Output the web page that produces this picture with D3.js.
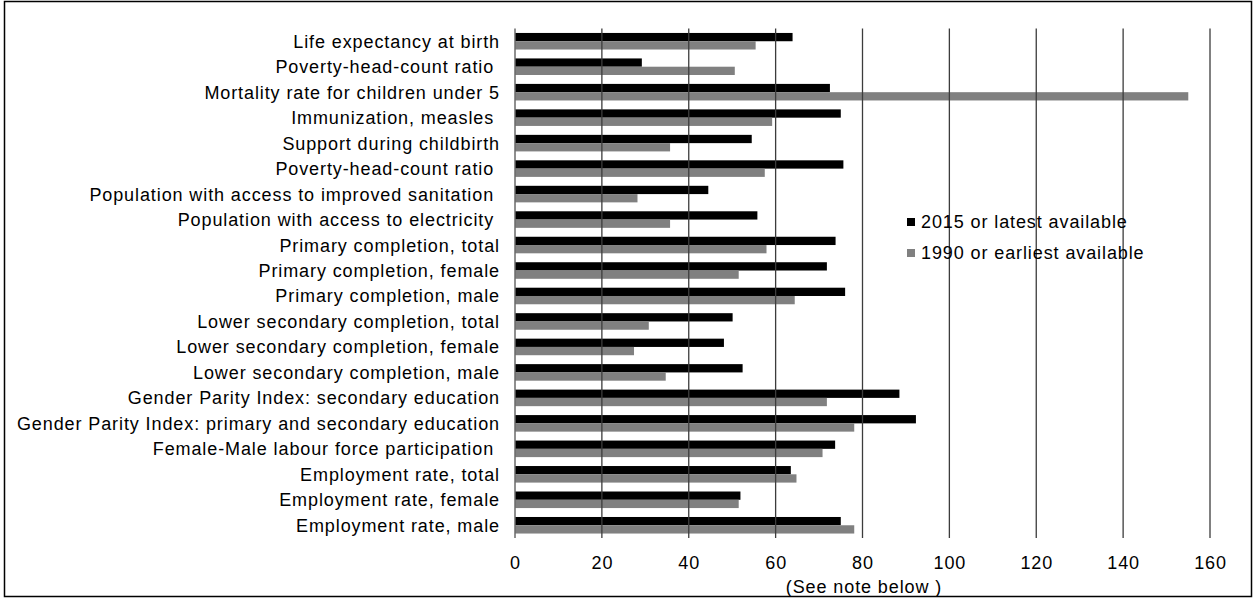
<!DOCTYPE html>
<html>
<head>
<meta charset="utf-8">
<script src="https://cdn.jsdelivr.net/npm/d3@7"></script>
<style>
  html, body { margin: 0; padding: 0; background: #fff; }
  svg { display: block; font-family: "Liberation Sans", Arial, sans-serif; }
  text { white-space: pre; }
</style>
</head>
<body>
<svg id="chart" width="1256" height="599"></svg>
<script>
const categories = [
  "Life expectancy at birth",
  "Poverty-head-count ratio ",
  "Mortality rate for children under 5",
  "Immunization, measles ",
  "Support during childbirth",
  "Poverty-head-count ratio ",
  "Population with access to improved sanitation ",
  "Population with access to electricity ",
  "Primary completion, total",
  "Primary completion, female",
  "Primary completion, male",
  "Lower secondary completion, total",
  "Lower secondary completion, female",
  "Lower secondary completion, male",
  "Gender Parity Index: secondary education",
  "Gender Parity Index: primary and secondary education",
  "Female-Male labour force participation ",
  "Employment rate, total",
  "Employment rate, female",
  "Employment rate, male"
];
const latest = [63.9, 29.2, 72.5, 75.0, 54.5, 75.6, 44.5, 55.8, 73.8, 71.8, 76.0, 50.1, 48.1, 52.4, 88.5, 92.3, 73.7, 63.5, 51.9, 75.0];
const earliest = [55.4, 50.6, 155.0, 59.2, 35.7, 57.5, 28.2, 35.7, 57.9, 51.5, 64.4, 30.8, 27.4, 34.7, 71.8, 78.1, 70.8, 64.8, 51.5, 78.1];
const seriesNames = ["2015 or latest available", "1990 or earliest available"];
const xTicks = [0, 20, 40, 60, 80, 100, 120, 140, 160];
const xNote = "(See note below )";

const colors = ["#000000", "#808080"];
const FS = 18, LS = 0.9;
const svg = d3.select("#chart");

// frame
svg.append("rect").attr("x", 4.5).attr("y", 1.5).attr("width", 1247).attr("height", 595)
  .attr("fill", "#fff").attr("stroke", "#000").attr("stroke-width", 1.5);

const x = d3.scaleLinear().domain([0, 160]).range([515, 1210]);
const y = d3.scaleBand().domain(d3.range(categories.length)).range([28.5, 538]).paddingInner(0).paddingOuter(0);
const groupFrac = 0.65;
const barH = y.bandwidth() * groupFrac / 2;
const off = (y.bandwidth() - 2 * barH) / 2;

const data = categories.map((c, i) => ({ i, c, vals: [latest[i], earliest[i]] }));

const rows = svg.append("g").selectAll("g").data(data).join("g")
  .attr("transform", d => `translate(0,${y(d.i)})`);
rows.selectAll("rect").data(d => d.vals.map((v, k) => ({ v, k }))).join("rect")
  .attr("x", x(0))
  .attr("y", d => off + d.k * barH)
  .attr("width", d => x(d.v) - x(0))
  .attr("height", barH)
  .attr("fill", d => colors[d.k]);

// gridlines (drawn over bars)
svg.append("g").selectAll("line").data(xTicks.slice(1)).join("line")
  .attr("x1", d => x(d)).attr("x2", d => x(d))
  .attr("y1", 28.5).attr("y2", 538)
  .attr("stroke", "#3c3c3c").attr("stroke-width", 1.3);
// value axis line
svg.append("line").attr("x1", x(0)).attr("x2", x(0)).attr("y1", 28.5).attr("y2", 538)
  .attr("stroke", "#6a6a6a").attr("stroke-width", 1.5);

// x axis labels via d3 axis
const xAxis = d3.axisBottom(x).tickValues(xTicks).tickSize(0).tickPadding(0).tickFormat(d3.format("d"));
const gx = svg.append("g").attr("transform", "translate(0,556)").call(xAxis);
gx.select(".domain").remove();
gx.selectAll("text").attr("font-size", FS).attr("fill", "#000").attr("dy", "0.71em")
  .attr("letter-spacing", LS).attr("font-family", "Liberation Sans, Arial, sans-serif");
svg.append("text").attr("x", 864).attr("y", 593).attr("text-anchor", "middle")
  .attr("font-size", FS).attr("letter-spacing", LS).attr("fill", "#000").text(xNote);

// category labels via d3 axis
const yAxis = d3.axisLeft(y).tickSize(0).tickPadding(0).tickFormat(i => categories[i]);
const gy = svg.append("g").attr("transform", "translate(500,0)").call(yAxis);
gy.select(".domain").remove();
gy.selectAll("text").attr("font-size", FS).attr("fill", "#000").attr("letter-spacing", LS)
  .attr("font-family", "Liberation Sans, Arial, sans-serif").attr("dy", "0.36em");

// legend
const lg = svg.append("g").attr("transform", "translate(907,218)");
seriesNames.forEach((s, k) => {
  const g = lg.append("g").attr("transform", `translate(0,${k * 31})`);
  g.append("rect").attr("width", 8).attr("height", 8).attr("fill", colors[k]);
  g.append("text").attr("x", 14).attr("y", 4).attr("dy", "0.36em")
    .attr("font-size", FS).attr("letter-spacing", LS).attr("fill", "#000").text(s);
});
</script>
</body>
</html>
